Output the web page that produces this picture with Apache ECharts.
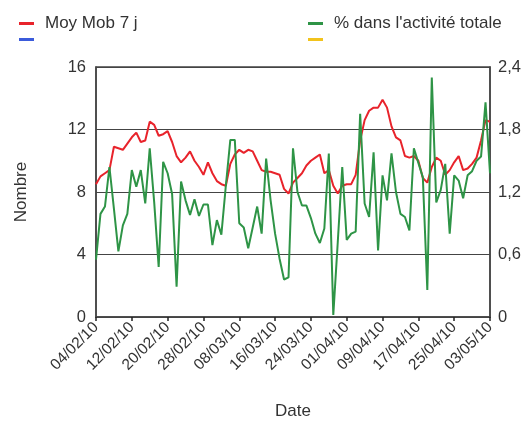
<!DOCTYPE html>
<html>
<head>
<meta charset="utf-8">
<script src="https://cdn.jsdelivr.net/npm/echarts@6/dist/echarts.min.js"></script>
<style>
  html, body { margin: 0; padding: 0; background: #fff; }
  #chart { width: 528px; height: 427px; }
</style>
</head>
<body>
<div id="chart"></div>
<script>
  // jours du 04/02/10 au 03/05/10
  const startDate = new Date(2010, 1, 4)
  const nbJours = 89
  const dates = []
  for (let i = 0; i < nbJours; i++) {
    const d = new Date(startDate.getFullYear(), startDate.getMonth(), startDate.getDate() + i)
    const dd = String(d.getDate()).padStart(2, '0')
    const mm = String(d.getMonth() + 1).padStart(2, '0')
    dates.push(dd + '/' + mm + '/10')
  }

  // moyenne mobile 7 j (axe gauche)
  const moyMob = [
    8.5, 9.0, 9.2, 9.4, 10.9, 10.8, 10.7, 11.1, 11.5, 11.8,
    11.2, 11.3, 12.5, 12.3, 11.6, 11.7, 11.9, 11.2, 10.3, 9.9,
    10.2, 10.6, 10.0, 9.6, 9.1, 9.9, 9.2, 8.7, 8.5, 8.4,
    9.8, 10.4, 10.7, 10.5, 10.7, 10.6, 10.0, 9.4, 9.3, 9.3,
    9.2, 9.1, 8.2, 7.9, 8.6, 8.9, 9.2, 9.7, 10.0, 10.2,
    10.4, 9.2, 9.4, 8.4, 7.9, 8.4, 8.5, 8.5, 9.1, 11.3,
    12.6, 13.2, 13.4, 13.4, 13.9, 13.4, 12.2, 11.5, 11.3, 10.3,
    10.2, 10.3, 10.0, 8.9, 8.6, 9.6, 10.2, 10.0, 9.1, 9.4,
    9.9, 10.3, 9.4, 9.5, 9.8, 10.2, 11.3, 12.6, 12.5
  ]

  // % dans l'activité totale (axe droit)
  const pctActivite = [
    0.55, 0.99, 1.06, 1.44, 1.04, 0.63, 0.88, 0.99, 1.41, 1.25,
    1.41, 1.09, 1.62, 1.10, 0.48, 1.49, 1.38, 1.18, 0.29, 1.30,
    1.12, 0.98, 1.13, 0.97, 1.08, 1.08, 0.69, 0.93, 0.79, 1.26,
    1.70, 1.70, 0.90, 0.86, 0.66, 0.86, 1.06, 0.80, 1.52, 1.12,
    0.80, 0.56, 0.36, 0.38, 1.62, 1.20, 1.07, 1.07, 0.95, 0.80,
    0.71, 0.85, 1.57, 0.02, 0.72, 1.44, 0.74, 0.80, 0.82, 1.95,
    1.09, 0.96, 1.58, 0.64, 1.36, 1.12, 1.57, 1.20, 0.99, 0.96,
    0.83, 1.62, 1.48, 1.34, 0.26, 2.30, 1.10, 1.22, 1.47, 0.80,
    1.36, 1.31, 1.14, 1.36, 1.40, 1.50, 1.54, 2.06, 1.38
  ]

  const police = 'Liberation Sans, Arial, sans-serif'
  const gris = '#333'

  let myChart = echarts.init(document.getElementById('chart'))
  myChart.setOption({
    animation: false,
    textStyle: { fontFamily: police },
    legend: [
      {
        orient: 'vertical',
        left: 14,
        top: 10,
        itemGap: 6,
        itemWidth: 15,
        itemHeight: 3,
        icon: 'rect',
        data: ['Moy Mob 7 j', 'bleu'],
        formatter: n => (n === 'bleu' ? '' : n),
        textStyle: { fontSize: 17, color: gris, fontFamily: police, padding: [0, 0, 0, 6] }
      },
      {
        orient: 'vertical',
        left: 303,
        top: 10,
        itemGap: 6,
        itemWidth: 15,
        itemHeight: 3,
        icon: 'rect',
        data: ["% dans l'activité totale", 'jaune'],
        formatter: n => (n === 'jaune' ? '' : n),
        textStyle: { fontSize: 17, color: gris, fontFamily: police, padding: [0, 0, 0, 6] }
      }
    ],
    grid: {
      left: 96,
      right: 38,
      top: 67,
      bottom: 110,
      show: true,
      borderColor: '#444',
      borderWidth: 1.5
    },
    xAxis: {
      type: 'category',
      boundaryGap: false,
      data: dates,
      name: 'Date',
      nameLocation: 'middle',
      nameGap: 86,
      nameTextStyle: { fontSize: 17, color: gris },
      axisLine: { lineStyle: { color: '#444', width: 1.5 } },
      axisTick: { interval: 7, length: 4, lineStyle: { color: '#222', width: 1.5 } },
      axisLabel: { interval: 7, rotate: 45, fontSize: 15.5, color: gris, margin: 8 }
    },
    yAxis: [
      {
        type: 'value',
        min: 0,
        max: 16,
        interval: 4,
        name: 'Nombre',
        nameLocation: 'middle',
        nameGap: 66,
        nameTextStyle: { fontSize: 17, color: gris },
        axisLine: { show: true, lineStyle: { color: '#444', width: 1.5 } },
        axisTick: { show: false },
        axisLabel: { fontSize: 16.5, color: gris, margin: 10 },
        splitLine: { lineStyle: { color: '#444', width: 1.2 } }
      },
      {
        type: 'value',
        min: 0,
        max: 2.4,
        interval: 0.6,
        position: 'right',
        axisLine: { show: true, lineStyle: { color: '#444', width: 1.5 } },
        axisTick: { show: false },
        axisLabel: {
          fontSize: 16.5,
          color: gris,
          margin: 8,
          formatter: v => String(Math.round(v * 10) / 10).replace('.', ',')
        },
        splitLine: { show: false }
      }
    ],
    series: [
      {
        name: 'Moy Mob 7 j',
        type: 'line',
        yAxisIndex: 0,
        data: moyMob,
        symbol: 'none',
        color: '#e8232b',
        lineStyle: { width: 2, color: '#e8232b' },
        z: 3
      },
      {
        name: "% dans l'activité totale",
        type: 'line',
        yAxisIndex: 1,
        data: pctActivite,
        symbol: 'none',
        color: '#2e9446',
        lineStyle: { width: 2, color: '#2e9446' },
        z: 4
      },
      {
        name: 'bleu',
        type: 'line',
        data: [],
        color: '#3b5bdb'
      },
      {
        name: 'jaune',
        type: 'line',
        data: [],
        color: '#f2c31c'
      }
    ]
  })
</script>
</body>
</html>
